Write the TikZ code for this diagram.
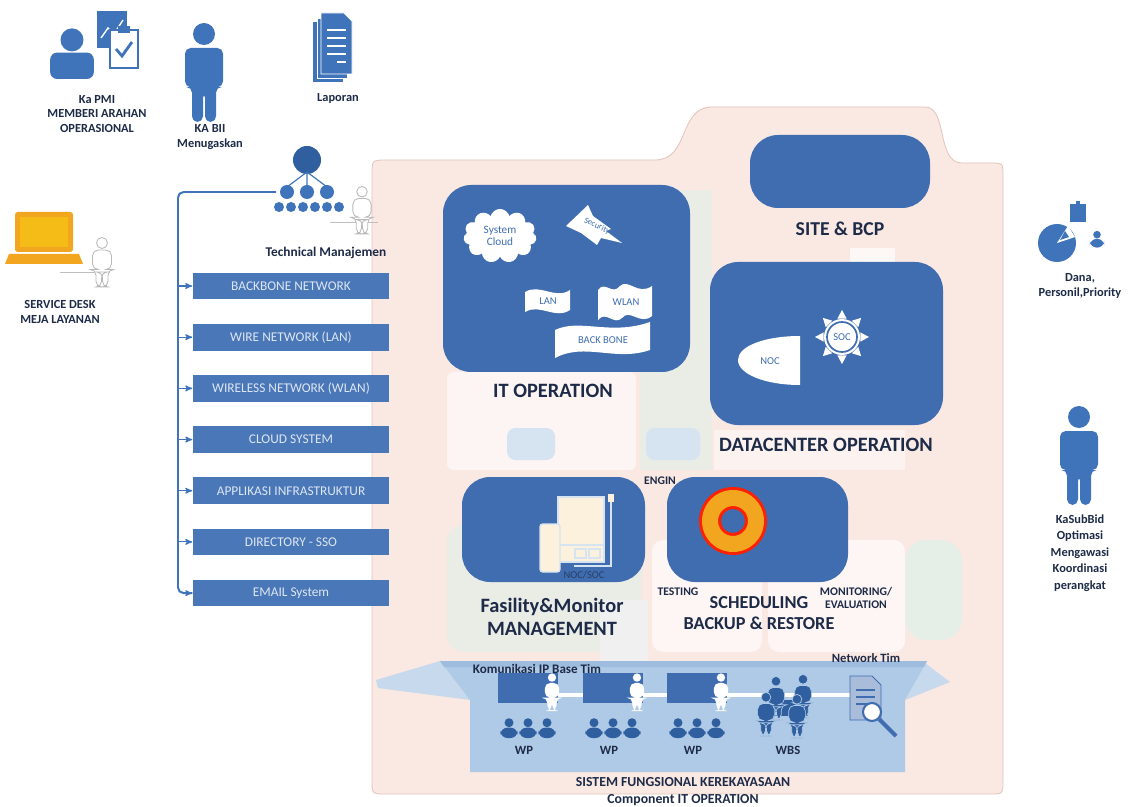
\documentclass[tikz,border=0pt]{standalone}
\usepackage{fontspec}
\setmainfont{Carlito}
\usetikzlibrary{arrows,calc,positioning,fit,shapes.symbols}

\definecolor{boxblue}{HTML}{3F6DB0}
\definecolor{tagblue}{HTML}{4A77B7}
\definecolor{tagtext}{HTML}{DDE6F3}
\definecolor{iconblue}{HTML}{3F74BA}
\definecolor{crowdblue}{HTML}{2F5F9F}
\definecolor{darktext}{HTML}{1E2B48}
\definecolor{pinkbg}{HTML}{FAE8E2}
\definecolor{pinkline}{HTML}{E3C6BD}
\definecolor{panelgreen}{HTML}{E6EEE8}
\definecolor{panelblue}{HTML}{D6E4F2}
\definecolor{bandblue}{HTML}{AFCAE6}
\definecolor{laptoporange}{HTML}{F2A51E}
\definecolor{beige}{HTML}{FBF1DC}

% people icons, drawn in pixel-like units (y grows downwards)
\tikzset{
  manstyle/.style={fill=iconblue},
  pics/standman/.style={code={
    \path[manstyle] (0,-38) circle (11);
    \path[manstyle, rounded corners=4pt] (-19,-24) -- (19,-24) -- (19,15) -- (12,15) -- (12,50)
      -- (1,50) -- (1,20) -- (-1,20) -- (-1,50) -- (-12,50) -- (-12,15) -- (-19,15) -- cycle;
  }},
  pics/bust/.style={code={
    \path[manstyle] (0,-14) circle (10);
    \path[manstyle, rounded corners=5pt] (-19,20) -- (-19,-3) -- (19,-3) -- (19,20) -- cycle;
  }},
}

\begin{document}
\begin{tikzpicture}[x=0.025cm,y=-0.025cm,>=stealth',
    bigbox/.style={fill=boxblue, rounded corners=20pt, inner sep=0pt},
    tag/.style={fill=tagblue, text=tagtext, minimum width=140pt, minimum height=19pt,
      inner sep=0pt, font=\fontsize{9.5}{10}\selectfont},
    lbl/.style={font=\bfseries\fontsize{8.8}{10.5}\selectfont, text=darktext, align=center},
    small/.style={lbl, font=\bfseries\fontsize{8.3}{9.6}\selectfont},
    title/.style={font=\bfseries\fontsize{14.5}{16.5}\selectfont, text=darktext, align=center},
    inlbl/.style={font=\fontsize{7.5}{8.5}\selectfont, text=boxblue, align=center},
    wave/.style={fill=white},
    bus/.style={draw=iconblue, line width=1.4pt}]
\useasboundingbox[fill=white] (0,0) rectangle (1132,807);

% background sheet with the tab
\path[fill=pinkbg, draw=pinkline, line width=0.6pt] (372,175) .. controls (372,160) .. (387,160)
  -- (655,160) .. controls (690,160) and (678,107) .. (712,107) -- (925,107)
  .. controls (948,107) and (936,163) .. (962,163) -- (990,163)
  .. controls (1003,163) .. (1003,176) -- (1003,780) .. controls (1003,794) .. (990,794)
  -- (386,794) .. controls (372,794) .. (372,780) -- cycle;

% faint panels behind
\fill[panelgreen, opacity=.8] (640,190) rectangle (712,470);
\fill[white, opacity=.6, rounded corners=4pt] (447,372) rectangle (636,470);
\fill[white, opacity=.5] (714,430) rectangle (905,470);
\fill[white, opacity=.7] (850,248) rectangle (895,262);
\fill[panelblue, rounded corners=6pt] (507,428) rectangle (555,460);
\fill[panelblue, rounded corners=6pt] (646,428) rectangle (700,460);
\fill[panelgreen, opacity=.8, rounded corners=12pt] (447,525) rectangle (642,652);
\fill[white, opacity=.65, rounded corners=8pt] (652,540) rectangle (762,652);
\fill[white, opacity=.65, rounded corners=8pt] (768,540) rectangle (905,652);
\fill[panelgreen, rounded corners=15pt] (905,540) rectangle (962,640);
\fill[gray!12] (600,600) rectangle (648,662);

% left side: people and documents
\pic[scale=1.15] at (72,56) {bust};
\fill[iconblue] (97,11) rectangle (127,48);
\draw[white, line width=1pt] (101,38) -- (108,28) -- (114,34) -- (123,20);
\filldraw[fill=white, draw=iconblue, line width=1.3pt] (110,30) rectangle (138,68);
\fill[iconblue] (118,26) rectangle (130,33);
\draw[iconblue, line width=2pt] (116,49) -- (122,56) -- (132,42);
\node[lbl] (kapmi) at (97,114) {Ka PMI\\MEMBERI ARAHAN\\OPERASIONAL};

\pic at (204,72) {standman};
\node[lbl] (kabii) at (210,137) {KA BII\\Menugaskan};

\fill[iconblue] (313,22) rectangle (343,82);
\fill[iconblue, draw=white, line width=.6pt] (317,18) rectangle (347,78);
\filldraw[fill=iconblue, draw=white, line width=.6pt] (321,13) -- (344,13) -- (352,21) -- (352,74) -- (321,74) -- cycle;
\foreach \y in {30,38,46,54} \draw[white, line width=.8pt] (327,\y) -- (346,\y);
\draw[white, line width=.8pt] (337,62) -- (346,62);
\node[lbl] (laporan) at (338,98) {Laporan};

% technical management tree
\fill[crowdblue] (307,160) circle (14);
\draw[iconblue, line width=.8pt] (307,172) -- (287,187) (307,172) -- (307,187) (307,172) -- (327,187);
\foreach \x in {287,307,327} \fill[iconblue] (\x,192) circle (7);
\foreach \x in {279,291,...,339} \fill[iconblue] (\x,207) circle (5);
\draw[gray!50, line width=.6pt] (330,222) -- (378,222);
\pic[scale=.48, manstyle/.style={fill=white, draw=gray!55, line width=.6pt}] at (362,210) {standman};
\coordinate (org) at (276,192);
\node[lbl, font=\bfseries\fontsize{9.5}{11}\selectfont] (techman) at (326,253) {Technical Manajemen};

% service desk
\fill[laptoporange, rounded corners=2pt] (15,212) rectangle (73,252);
\fill[laptoporange!75!yellow] (20,217) rectangle (68,247);
\fill[laptoporange] (9,254) -- (79,254) -- (83,264) -- (5,264) -- cycle;
\draw[gray!50, line width=.6pt] (60,272) -- (110,272);
\pic[scale=.5, manstyle/.style={fill=white, draw=gray!55, line width=.6pt}] at (102,262) {standman};
\node[lbl] (desk) at (60,312) {SERVICE DESK\\MEJA LAYANAN};

% technical areas
\node[tag] (t1) at (291,286) {BACKBONE NETWORK};
\node[tag, below=17pt of t1] (t2) {WIRE NETWORK (LAN)};
\node[tag, below=17pt of t2] (t3) {WIRELESS NETWORK (WLAN)};
\node[tag, below=17pt of t3] (t4) {CLOUD SYSTEM};
\node[tag, below=17pt of t4] (t5) {APPLIKASI INFRASTRUKTUR};
\node[tag, below=17pt of t5] (t6) {DIRECTORY - SSO};
\node[tag, below=17pt of t6] (t7) {EMAIL System};

\coordinate (bustop) at (178,192);
\draw[bus, rounded corners=4pt] (org) -- (bustop) -- (bustop |- t7) -- (t7.west);
\foreach \t in {t1,t2,t3,t4,t5,t6}
  \draw[bus, line width=.8pt, ->] (bustop |- \t) -- (\t.west);
\draw[bus, line width=.8pt, ->] ($(bustop |- t7)+(8,0)$) -- (t7.west);

% IT operation
\node[bigbox, fit={(443,185) (690,372)}] (itop) {};
\node[cloud, cloud puffs=11, fill=white, minimum width=52pt, minimum height=38pt, inner sep=0pt,
  inlbl, font=\fontsize{8}{9}\selectfont] (cloud) at (500,236) {System\\Cloud};
\fill[white] (566,226) -- (588,205) -- (593,216) -- (611,229) -- (606,231) -- (622,243)
  -- (601,238) -- (597,245) -- (581,233) -- cycle;
\node[inlbl, rotate=-25, font=\fontsize{6}{7}\selectfont] at (597,226) {Security};
\fill[wave] (525,292) .. controls (540,283) and (555,300) .. (570,290) -- (570,310)
  .. controls (555,320) and (540,303) .. (525,312) -- cycle;
\node[inlbl] (lan) at (548,301) {LAN};
\fill[wave] (598,290) .. controls (605,280) and (612,296) .. (620,286) .. controls (628,278) and (638,296) .. (652,286)
  -- (652,316) .. controls (640,326) and (630,308) .. (622,318) .. controls (614,326) and (606,310) .. (598,320) -- cycle;
\node[inlbl] (wlan) at (626,302) {WLAN};
\fill[wave] (555,330) .. controls (580,318) and (610,336) .. (650,322) -- (650,350)
  .. controls (615,362) and (585,342) .. (555,358) -- cycle;
\node[inlbl] (backbone) at (603,340) {BACK BONE};
\node[title] (itlbl) at (553,391) {IT OPERATION};

% site and datacenter
\node[bigbox, fit={(750,135) (930,208)}] (site) {};
\node[title, font=\bfseries\fontsize{14}{16}\selectfont] (sitelbl) at (840,229) {SITE \& BCP};
\node[bigbox, fit={(710,262) (943,425)}] (dcop) {};
\fill[white] (800,336) -- (800,385) .. controls (765,385) and (738,374) .. (738,360)
  .. controls (738,346) and (765,336) .. (800,336) -- cycle;
\node[inlbl] (noc) at (770,361) {NOC};
\foreach \a in {0,45,...,315}
  \fill[white] ($(842,337)+(\a:27)$) -- ($(842,337)+(\a+14:19)$) -- ($(842,337)+(\a-14:19)$) -- cycle;
\fill[white] (842,337) circle (18);
\draw[boxblue, line width=1.2pt] (842,337) circle (15);
\node[inlbl] (soc) at (842,337) {SOC};
\node[title] (dclbl) at (826,445) {DATACENTER OPERATION};

% facility and scheduling
\node[small] (engin) at (660,481) {ENGIN};
\node[bigbox, fit={(462,477) (645,582)}] (fasil) {};
\filldraw[fill=beige, draw=panelblue, line width=1pt] (558,497) rectangle (604,545);
\filldraw[fill=beige, draw=panelblue, line width=1pt] (558,545) rectangle (604,562);
\draw[panelblue, line width=.8pt] (575,549) rectangle (586,558) (589,549) rectangle (600,558);
\filldraw[fill=beige, draw=panelblue, line width=1pt, rounded corners=2pt] (540,524) rectangle (560,572);
\draw[panelblue, line width=1pt] (611,499) -- (611,566) -- (574,566);
\fill[beige] (608,494) rectangle (614,502);
\node[inlbl, text=darktext!70!boxblue] (nocsoc) at (584,575) {NOC/SOC};
\node[title] (fasillbl) at (552,617) {Fasility\&Monitor\\MANAGEMENT};

\node[bigbox, fit={(667,477) (848,582)}] (sched) {};
\fill[red!75!orange, even odd rule] (733,521) circle (34) (733,521) circle (12);
\fill[laptoporange, even odd rule] (733,521) circle (31) (733,521) circle (15);
\node[small] (testing) at (678,592) {TESTING};
\node[title, font=\bfseries\fontsize{13}{15}\selectfont] (schedlbl) at (759,613) {SCHEDULING\\BACKUP \& RESTORE};
\node[small] (monitor) at (856,598) {MONITORING/\\EVALUATION};

% working band at the bottom
\fill[bandblue!70!white] (376,680) -- (440,661) -- (470,700) -- (378,688) -- cycle;
\fill[bandblue!70!white] (950,682) -- (925,663) -- (905,700) -- cycle;
\fill[bandblue] (440,661) -- (927,661) -- (905,700) -- (905,772) -- (470,772) -- (470,700) -- cycle;
\fill[bandblue!85!boxblue] (440,661) -- (927,661) -- (924,667) -- (444,667) -- cycle;
\node[small, font=\bfseries\fontsize{9.3}{10}\selectfont] (ipbase) at (537,669) {Komunikasi IP Base Tim};
\node[small, font=\bfseries\fontsize{9}{10}\selectfont] (nettim) at (866,658) {Network Tim};
\draw[white, line width=3pt] (505,695) -- (870,695);
\foreach \x/\n in {528/1,613/2,697/3} {
  \node[fill=boxblue, minimum width=42pt, minimum height=21pt, inner sep=0pt] (board\n) at (\x,688) {};
  \pic[scale=.38, manstyle/.style={fill=white}] at (\x+24,692) {standman};
  \foreach \d in {-19,0,19}
    \pic[scale=.45, manstyle/.style={fill=crowdblue}] at (\x+\d,729) {bust};
  \node[small, font=\bfseries\fontsize{9}{10}\selectfont] (wp\n) at (\x-4,750) {WP};
}
\fill[crowdblue] (775,700) rectangle (808,716);
\foreach \p in {(776,698),(803,696),(766,714),(797,716)}
  \pic[scale=.44, manstyle/.style={fill=crowdblue, draw=bandblue, line width=.5pt}] at \p {standman};
\node[small, font=\bfseries\fontsize{9}{10}\selectfont] (wbs) at (788,750) {WBS};
\filldraw[fill=boxblue!45!white, draw=boxblue, line width=.6pt] (850,676) -- (872,676) -- (881,685)
  -- (881,720) -- (850,720) -- cycle;
\foreach \y in {690,697,704} \draw[boxblue, line width=.8pt] (856,\y) -- (875,\y);
\draw[boxblue, line width=3pt] (879,719) -- (896,736);
\filldraw[fill=white, draw=boxblue, line width=1.5pt] (872,712) circle (9);

\node[lbl, font=\bfseries\fontsize{9.8}{11}\selectfont] (sistem) at (683,782) {SISTEM FUNGSIONAL KEREKAYASAAN};
\node[lbl, font=\bfseries\fontsize{9.8}{11}\selectfont] (component) at (683,800) {Component IT OPERATION};

% right side
\fill[iconblue] (1070,204) rectangle (1086,222);
\fill[iconblue] (1076,201) rectangle (1080,205);
\fill[iconblue] (1057,243) circle (19);
\fill[white] (1057,243) -- (1075,237) -- (1068,226) -- cycle;
\fill[iconblue] (1060,240) -- (1069,237) -- (1065,231) -- cycle;
\pic[scale=.38] at (1097,240) {bust};
\node[lbl] (dana) at (1080,286) {Dana,\\Personil,Priority};

\pic at (1079,455) {standman};
\node[lbl, font=\bfseries\fontsize{8.8}{11.8}\selectfont] (kasub) at (1080,553) {KaSubBid\\Optimasi\\Mengawasi\\Koordinasi\\perangkat};
\end{tikzpicture}
\end{document}
